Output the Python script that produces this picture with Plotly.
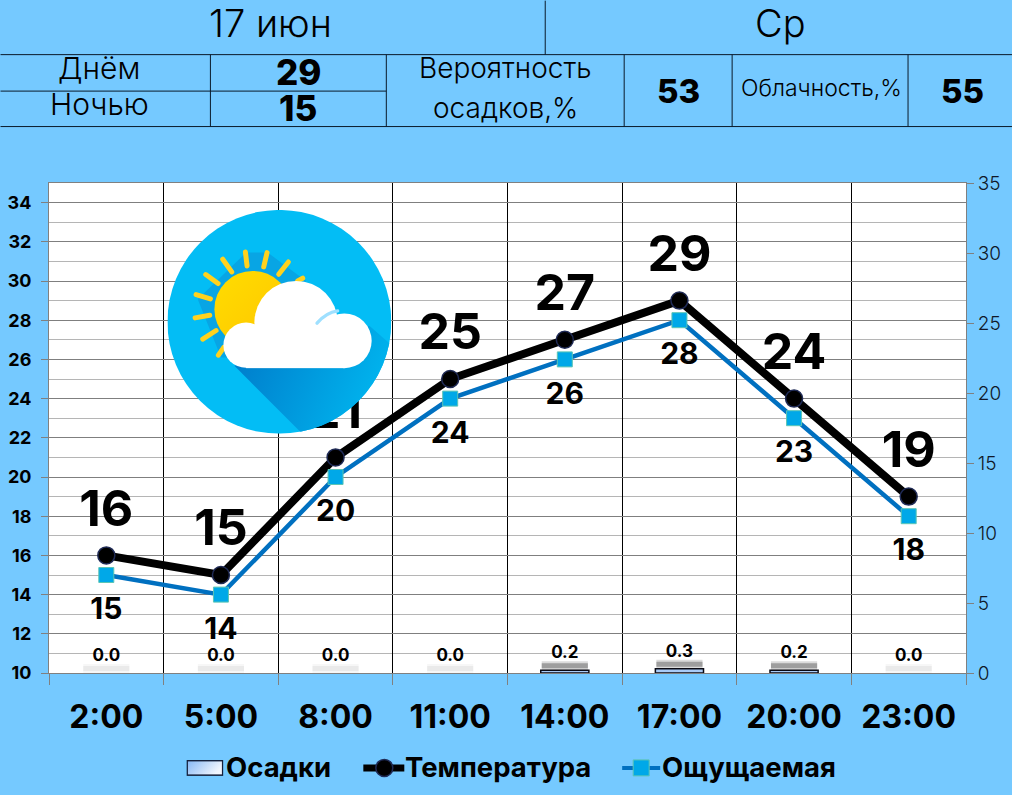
# Weather card: hourly temperature, feels-like and precipitation

import base64
import plotly.graph_objects as go

# Chart data
hours = ['2:00', '5:00', '8:00', '11:00', '14:00', '17:00', '20:00', '23:00']
temperature = [16, 15, 21, 25, 27, 29, 24, 19]
feels_like = [15, 14, 20, 24, 26, 28, 23, 18]
precipitation = [0.0, 0.0, 0.0, 0.0, 0.2, 0.3, 0.2, 0.0]

# Header table texts
date_text = '17 июн'
weekday_text = 'Ср'
day_label, night_label = 'Днём', 'Ночью'
day_temp, night_temp = '29', '15'
rain_label_top, rain_label_bottom = 'Вероятность', 'осадков,%'
rain_chance = '53'
cloud_label = 'Облачность,%'
cloud_cover = '55'

# Legend texts
legend_rain, legend_temp, legend_feels = 'Осадки', 'Температура', 'Ощущаемая'

# Style
FONT = 'Inter'
BG = '#75C9FF'
WIDTH, HEIGHT = 1012, 795
LEFT, RIGHT, TOP, BOTTOM = 48.5, 966, 182.5, 673


def px(x):
    """Pixel x to paper x."""
    return (x - LEFT) / (RIGHT - LEFT)


def py(y):
    """Pixel y to paper y."""
    return (BOTTOM - y) / (BOTTOM - TOP)


def svg_uri(svg):
    return 'data:image/svg+xml;base64,' + base64.b64encode(svg.encode()).decode()


def weather_icon():
    """Sun and cloud badge as an inline svg."""
    rays = [(733, 243, 738, 285), (798, 245, 788, 288), (862, 273, 833, 310),
            (665, 265, 692, 303), (614, 311, 651, 338), (585, 371, 628, 384),
            (582, 441, 626, 433), (605, 505, 645, 479), (652, 553, 668, 530),
            (905, 322, 890, 330)]
    ray_svg = ''.join(
        f'<line x1="{a}" y1="{b}" x2="{c}" y2="{d}"/>' for a, b, c, d in rays)
    svg = f'''<svg xmlns="http://www.w3.org/2000/svg" viewBox="499 117 672 672">
<defs>
<linearGradient id="s" x1="0" y1="0" x2="1" y2="0.3"><stop offset="0" stop-color="#0078C8"/><stop offset="1" stop-color="#00B4EE"/></linearGradient>
<linearGradient id="u" x1="0" y1="0" x2="1" y2="1"><stop offset="0" stop-color="#FFDD00"/><stop offset="1" stop-color="#FFC400"/></linearGradient>
<clipPath id="c"><circle cx="835" cy="453" r="336"/></clipPath>
</defs>
<circle cx="835" cy="453" r="336" fill="#03BDF5"/>
<g clip-path="url(#c)">
<polygon points="590,385 735,245 800,245 915,330 700,560 660,560" fill="#08A5E4"/>
<polygon points="700,585 900,785 1180,785 1180,530 1105,465" fill="url(#s)"/>
</g>
<g stroke="#FFD21E" stroke-width="15" stroke-linecap="round">{ray_svg}</g>
<circle cx="755" cy="415" r="115" fill="url(#u)"/>
<g fill="#FFFFFF">
<circle cx="735" cy="523" r="68"/>
<circle cx="885" cy="455" r="125"/>
<circle cx="1030" cy="510" r="82"/>
<rect x="735" y="480" width="295" height="112"/>
</g>
<path d="M948 457 Q975 425 1010 420" fill="none" stroke="#9FE0FF" stroke-width="10" stroke-linecap="round"/>
</svg>'''
    return svg_uri(svg)


def swatch_icon():
    """Gradient legend swatch for the precipitation bars."""
    svg = '''<svg xmlns="http://www.w3.org/2000/svg" viewBox="0 0 37 16" preserveAspectRatio="none">
<defs><linearGradient id="g" x1="0" y1="0" x2="1" y2="0.4"><stop offset="0" stop-color="#86B8F5"/><stop offset="1" stop-color="#F2F6FE"/></linearGradient></defs>
<rect x="0.75" y="0.75" width="35.5" height="14.5" fill="url(#g)" stroke="#14203C" stroke-width="1.5"/>
</svg>'''
    return svg_uri(svg)


def add_pixel_image(fig, source, x, y, w, h):
    fig.add_layout_image(dict(
        source=source,
        xref='paper', yref='paper',
        x=px(x), y=py(y),
        sizex=w / (RIGHT - LEFT), sizey=h / (BOTTOM - TOP),
        xanchor='left', yanchor='top',
        sizing='stretch',
        layer='above'
    ))


def add_pixel_shape(fig, kind, x0, y0, x1, y1, line_color, line_width, fill=None):
    fig.add_shape(type=kind, xref='paper', yref='paper',
                  x0=px(x0), y0=py(y0), x1=px(x1), y1=py(y1),
                  line=dict(color=line_color, width=line_width),
                  fillcolor=fill)


def add_pixel_text(fig, text, x, y, size, weight, anchor='center'):
    fig.add_annotation(text=text, xref='paper', yref='paper', x=px(x), y=py(y),
                       xanchor=anchor, yanchor='middle', showarrow=False,
                       font=dict(family=FONT, size=size, color='black', weight=weight))


fig = go.Figure()

# Blurred shadow above the precipitation bars, wide pale stroke under a narrow one
for width, zero_alpha, rain_alpha in [(9, 0.03, 0.14), (5, 0.05, 0.28)]:
    fig.add_trace(go.Scatter(
        x=hours,
        y=[p + 0.32 for p in precipitation],
        yaxis='y2',
        mode='markers',
        marker=dict(symbol='line-ew', size=33,
                    line=dict(width=width,
                              color=[f'rgba(0,0,0,{zero_alpha if p == 0 else rain_alpha})'
                                     for p in precipitation])),
        hoverinfo='skip'
    ))

fig.add_trace(go.Bar(
    name=legend_rain,
    x=hours,
    y=precipitation,
    yaxis='y2',
    width=0.42,
    marker=dict(color='#A9CBF7',
                line=dict(color='#0A0A14', width=[0 if p == 0 else 1.5 for p in precipitation]))
))

fig.add_trace(go.Scatter(
    name=legend_temp,
    x=hours,
    y=temperature,
    mode='lines+markers',
    line=dict(color='black', width=8),
    marker=dict(symbol='circle', size=17, color='black', line=dict(color='#1F2A55', width=1.5))
))

fig.add_trace(go.Scatter(
    name=legend_feels,
    x=hours,
    y=feels_like,
    mode='lines+markers',
    line=dict(color='#0070C0', width=4.5),
    marker=dict(symbol='square', size=15, color='#00A8E8', line=dict(color='#5CC5B5', width=1))
))

# Value labels, the hidden marker size sets how far they sit from the point
fig.add_trace(go.Scatter(
    x=hours,
    y=temperature,
    mode='markers+text',
    text=temperature,
    textposition='top center',
    textfont=dict(family=FONT, size=50, color='black', weight=700),
    marker=dict(size=26, opacity=0),
    hoverinfo='skip'
))

fig.add_trace(go.Scatter(
    x=hours,
    y=feels_like,
    mode='markers+text',
    text=feels_like,
    textposition='bottom center',
    textfont=dict(family=FONT, size=30, color='black', weight=700),
    marker=dict(size=33, opacity=0),
    hoverinfo='skip'
))

fig.add_trace(go.Scatter(
    x=hours,
    y=[p + 0.55 for p in precipitation],
    yaxis='y2',
    mode='text',
    text=[f'{p:.1f}' for p in precipitation],
    textposition='top center',
    textfont=dict(family=FONT, size=17, color='black', weight=700),
    hoverinfo='skip'
))

# Header table lines: x0, y0, x1, y1 in pixels
table_lines = [
    (0, 54, WIDTH, 54), (0, 126, WIDTH, 126), (0, 90.5, 386, 90.5),
    (545, 0, 545, 54), (210, 54, 210, 126), (386, 54, 386, 126),
    (624, 54, 624, 126), (732, 54, 732, 126), (908, 54, 908, 126),
]
for x0, y0, x1, y1 in table_lines:
    add_pixel_shape(fig, 'line', x0, y0, x1, y1, '#0A1A2A', 1)

# Header table texts: text, x, y, size, weight
table_texts = [
    (date_text, 270, 22, 38, 300), (weekday_text, 780, 22, 38, 300),
    (day_label, 99, 67, 30, 300), (night_label, 99, 103, 30, 300),
    (day_temp, 298, 71, 35, 800), (night_temp, 298, 107, 35, 800),
    (rain_label_top, 505, 67, 28, 300), (rain_label_bottom, 505, 107, 28, 300),
    (rain_chance, 678, 90, 33, 800), (cloud_label, 821, 87, 23, 300),
    (cloud_cover, 962, 90, 33, 800),
]
for text, x, y, size, weight in table_texts:
    add_pixel_text(fig, text, x, y, size, weight)

add_pixel_image(fig, weather_icon(), 167, 209.5, 224, 224)

# Legend row, drawn by hand because the bar swatch is a wide gradient box
add_pixel_image(fig, swatch_icon(), 186, 760, 37, 16)
add_pixel_shape(fig, 'line', 363, 768, 404, 768, 'black', 7)
add_pixel_shape(fig, 'circle', 375.5, 759.5, 392.5, 776.5, '#1F2A55', 1.5, 'black')
add_pixel_shape(fig, 'line', 622, 768, 660, 768, '#0070C0', 4)
add_pixel_shape(fig, 'rect', 633, 760, 649, 776, '#5CC5B5', 1, '#00A8E8')
add_pixel_text(fig, legend_rain, 224, 767, 27.5, 700, 'left')
add_pixel_text(fig, legend_temp, 403, 767, 27.5, 700, 'left')
add_pixel_text(fig, legend_feels, 660, 767, 27.5, 700, 'left')

fig.update_layout(
    width=WIDTH,
    height=HEIGHT,
    margin=dict(l=LEFT, r=WIDTH - RIGHT, t=TOP, b=HEIGHT - BOTTOM, pad=0, autoexpand=False),
    paper_bgcolor=BG,
    plot_bgcolor='white',
    font=dict(family=FONT, color='black'),
    hovermode=False,
    showlegend=False,
    xaxis=dict(
        type='category',
        categoryorder='array',
        categoryarray=hours,
        range=[-0.5, 7.5],
        tickson='boundaries',
        ticks='outside',
        ticklen=11,
        tickcolor='#808080',
        ticklabelstandoff=16,
        tickfont=dict(family=FONT, size=32, color='black', weight=700),
        showgrid=True,
        gridcolor='black',
        gridwidth=1,
        showline=True,
        linecolor='#808080',
        mirror=True,
        zeroline=False
    ),
    yaxis=dict(
        range=[10, 35],
        tick0=10,
        dtick=2,
        ticks='outside',
        ticklen=7,
        tickcolor='#808080',
        ticklabelstandoff=6,
        tickfont=dict(family=FONT, size=18, color='black', weight=700),
        showgrid=True,
        gridcolor='#7F7F7F',
        showline=True,
        linecolor='#808080',
        zeroline=False,
        minor=dict(dtick=1, tick0=10, showgrid=True, gridcolor='#B5B5B5', ticks='')
    ),
    yaxis2=dict(
        range=[0, 35],
        overlaying='y',
        side='right',
        tick0=0,
        dtick=5,
        ticks='outside',
        ticklen=7,
        tickcolor='#808080',
        tickfont=dict(family=FONT, size=19, color='#101828', weight=300),
        showgrid=False,
        showline=True,
        linecolor='#808080',
        zeroline=False
    )
)

fig.write_html("out.html", config={'displayModeBar': False},
               post_script="document.body.style.margin='0';")
